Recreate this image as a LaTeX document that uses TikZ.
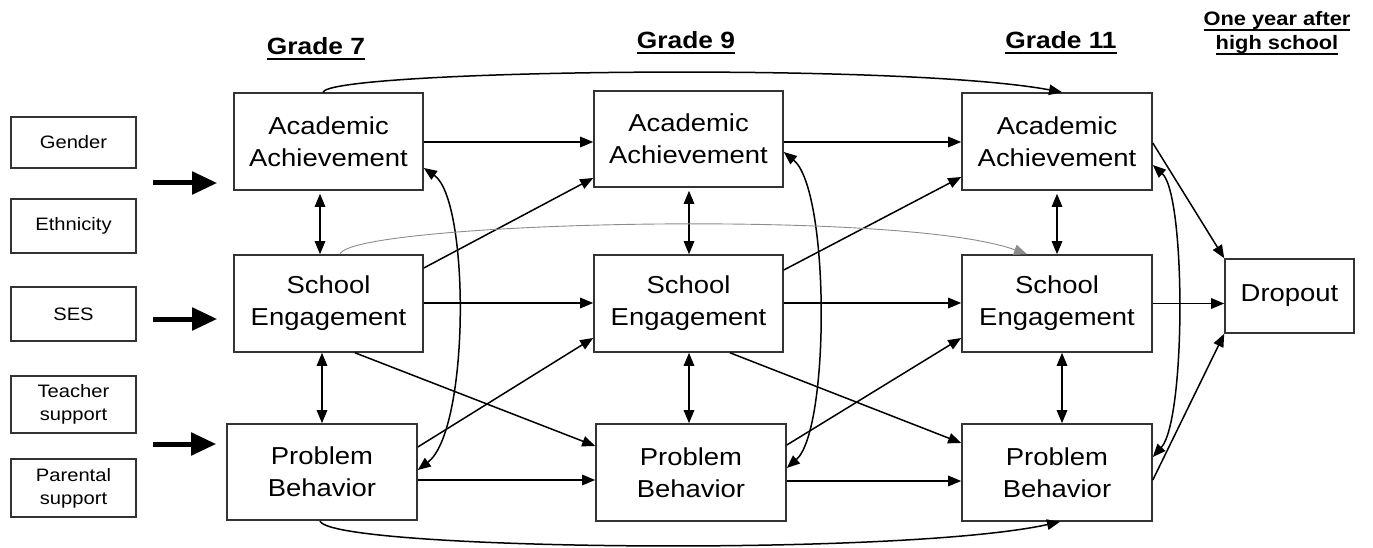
\documentclass[tikz,border=0pt]{standalone}
\usepackage{fontspec}
\setmainfont{Liberation Sans}[FakeStretch=1.12]
\usetikzlibrary{arrows.meta,calc}
% underline drawn as a rule, thicker than \underline
\newcommand\ulinetext[1]{\setbox0\hbox{#1}\rlap{\rule[-4.8pt]{\wd0}{1.7pt}}\box0}
\begin{document}
\begin{tikzpicture}[x=1pt,y=-1pt,
  box/.style={draw=black!80, line width=1.6pt, inner sep=0pt, align=center,
    font=\fontsize{24.5}{32}\selectfont},
  side/.style={draw=black!80, line width=1.4pt, inner sep=0pt, align=center,
    minimum width=125pt, font=\fontsize{18}{23}\selectfont},
  head/.style={anchor=base, inner sep=0pt, font=\bfseries\fontsize{23.5}{28}\selectfont},
  subhead/.style={anchor=base, inner sep=0pt, font=\bfseries\fontsize{19.5}{24}\selectfont},
  tip/.tip={Triangle[length=13pt,width=10.5pt]},
  link/.style={line width=1.5pt, -tip},
  both/.style={line width=1.5pt, tip-tip},
  faint/.style={line width=0.9pt, draw=black!45, -tip},
  feed/.style={line width=5pt, -{Triangle[length=25pt,width=22pt]}},
]
\useasboundingbox (0,0) rectangle (1373,548);

% column headings
\node[head] (t7) at (316,55) {\ulinetext{Grade 7}};
\node[head] (t9) at (686,49) {\ulinetext{Grade 9}};
\node[head] (t11) at (1061,49) {\ulinetext{Grade 11}};
\node[subhead] (t12a) at (1277,26) {\ulinetext{One year after}};
\node[subhead] (t12b) at (1277,50) {\ulinetext{high school}};

% background variables
\node[side, minimum height=51pt] (gender) at (73.5,142.5) {Gender};
\node[side, minimum height=54pt] (eth) at (73.5,226) {Ethnicity};
\node[side, minimum height=54pt] (ses) at (73.5,314) {SES};
\node[side, minimum height=57pt] (teach) at (73.5,404.5) {Teacher\\support};
\node[side, minimum height=58pt] (par) at (73.5,488) {Parental\\support};

% grade 7
\node[box, minimum width=189pt, minimum height=97pt] (aa7) at (328.5,141.5) {Academic\\Achievement};
\node[box, minimum width=189pt, minimum height=97pt] (se7) at (328.5,303.5) {School\\Engagement};
\node[box, minimum width=190pt, minimum height=96pt] (pb7) at (322,472) {Problem\\Behavior};
% grade 9
\node[box, minimum width=189pt, minimum height=96pt] (aa9) at (688.5,139) {Academic\\Achievement};
\node[box, minimum width=189pt, minimum height=97pt] (se9) at (688.5,303.5) {School\\Engagement};
\node[box, minimum width=190pt, minimum height=97pt] (pb9) at (691,472.5) {Problem\\Behavior};
% grade 11
\node[box, minimum width=190pt, minimum height=97pt] (aa11) at (1057,141.5) {Academic\\Achievement};
\node[box, minimum width=190pt, minimum height=97pt] (se11) at (1057,303.5) {School\\Engagement};
\node[box, minimum width=190pt, minimum height=97pt] (pb11) at (1057,472.5) {Problem\\Behavior};
% outcome
\node[box, minimum width=129pt, minimum height=74pt] (drop) at (1289.5,296) {Dropout};

% effects of the background variables
\coordinate (f1) at (153,183);
\coordinate (f2) at (153,319);
\coordinate (f3) at (153,444);
\draw[feed, shorten >=16pt] (f1) -- (aa7.west |- f1);
\draw[feed, shorten >=16pt] (f2) -- (se7.west |- f2);
\draw[feed, shorten >=10pt] (f3) -- (pb7.west |- f3);

% stability paths
\draw[link] (aa7.east |- 0,142) -- (aa9.west |- 0,142);
\draw[link] (aa9.east |- 0,142) -- (aa11.west |- 0,142);
\draw[link] (se7.east |- 0,303) -- (se9.west |- 0,303);
\draw[link] (se9.east |- 0,303) -- (se11.west |- 0,303);
\draw[link] (pb7.east |- 0,480) -- (pb9.west |- 0,480);
\draw[link] (pb9.east |- 0,481) -- (pb11.west |- 0,481);

% cross-lagged paths
\draw[link] (se7.east |- 0,268) -- (aa9.west |- 0,178);
\draw[link] (se9.east |- 0,270) -- (aa11.west |- 0,177);
\draw[link] (pb7.east |- 0,447) -- (se9.west |- 0,338);
\draw[link] (pb9.east |- 0,445) -- (se11.west |- 0,338);
\draw[link] (se7.south -| 355,0) -- (pb9.west |- 0,446);
\draw[link] (se9.south -| 730,0) -- (pb11.west |- 0,443);

% within-wave correlations
\draw[both, shorten <=3pt] (aa7.south -| 320,0) -- (se7.north -| 320,0);
\draw[both] (se7.south -| 322,0) -- (pb7.north -| 322,0);
\draw[both, shorten <=3pt] (aa9.south -| 689,0) -- (se9.north -| 689,0);
\draw[both] (se9.south -| 689,0) -- (pb9.north -| 689,0);
\draw[both, shorten <=3pt] (aa11.south -| 1057,0) -- (se11.north -| 1057,0);
\draw[both] (se11.south -| 1062,0) -- (pb11.north -| 1062,0);

\draw[both] (aa7.east |- 0,168) .. controls (470,200) and (470,430) .. (pb7.east |- 0,470);
\draw[both] (aa9.east |- 0,152) .. controls (830,190) and (830,430) .. (pb9.east |- 0,468);
\draw[both] (aa11.east |- 0,165) .. controls (1186,195) and (1186,420) .. (pb11.east |- 0,457);

% long-range paths
\draw[link] (aa7.north -| 323,0) .. controls (330,70) and (900,62) .. (aa11.north -| 1062,0);
\draw[link] (pb7.south -| 320,0) .. controls (327,550) and (900,557) .. (pb11.south -| 1060,0);
\draw[faint] (se7.north -| 340,0) .. controls (350,222) and (900,208) .. (se11.north -| 1027,0);

% paths to dropout
\draw[link] (aa11.east |- 0,143) -- (drop.north west);
\draw[link] (se11.east) -- (drop.west |- se11.east);
\draw[link] (pb11.east |- 0,480) -- (drop.south west);
\end{tikzpicture}
\end{document}
